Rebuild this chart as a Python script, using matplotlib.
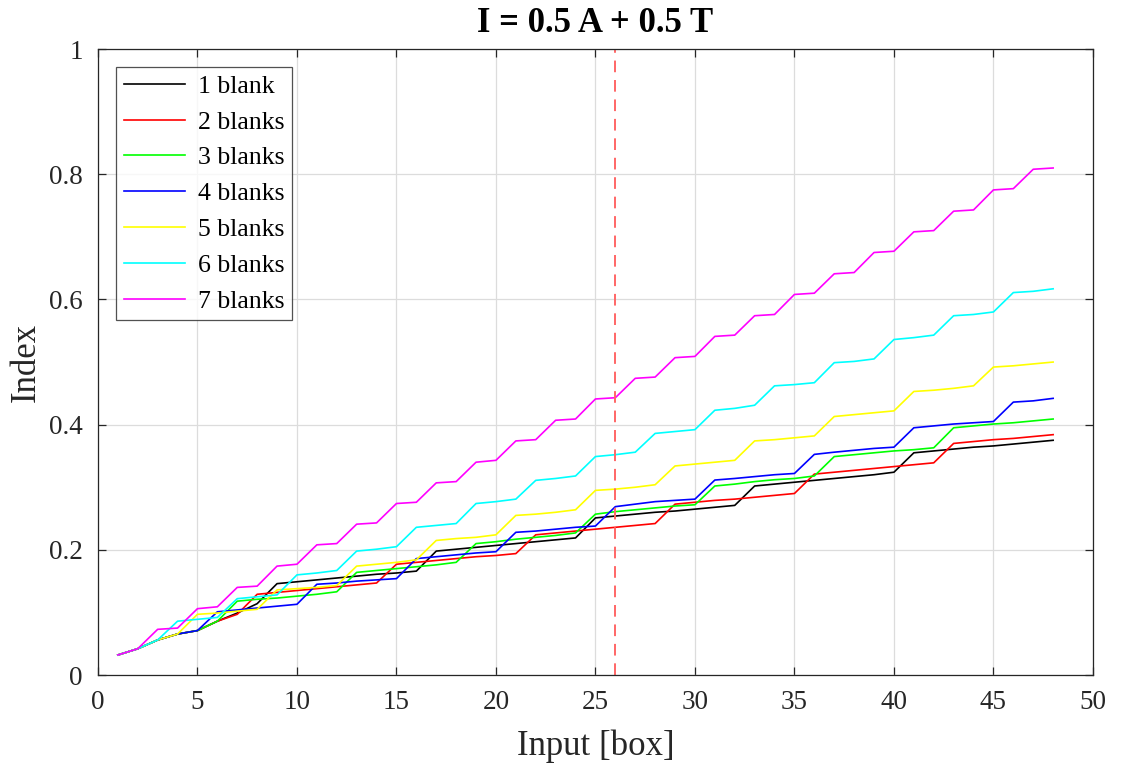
import matplotlib
matplotlib.use("Agg")
import matplotlib.pyplot as plt

# Input box counts
boxes = list(range(1, 49))

idx_1_blank = [0.032, 0.042, 0.056, 0.0655, 0.071, 0.086, 0.099, 0.114,
               0.146, 0.149, 0.152, 0.155, 0.158, 0.161, 0.163, 0.166,
               0.198, 0.201, 0.204, 0.207, 0.210, 0.213, 0.216, 0.219,
               0.251, 0.254, 0.257, 0.260, 0.262, 0.265, 0.268, 0.271,
               0.302, 0.305, 0.308, 0.311, 0.314, 0.317, 0.320, 0.324,
               0.355, 0.358, 0.361, 0.364, 0.366, 0.369, 0.372, 0.375]

idx_2_blanks = [0.032, 0.042, 0.056, 0.0655, 0.071, 0.086, 0.097, 0.129,
                0.132, 0.135, 0.138, 0.141, 0.144, 0.147, 0.177, 0.180,
                0.183, 0.186, 0.189, 0.191, 0.194, 0.224, 0.227, 0.230,
                0.233, 0.236, 0.239, 0.242, 0.273, 0.276, 0.279, 0.281,
                0.284, 0.287, 0.290, 0.321, 0.324, 0.327, 0.330, 0.333,
                0.336, 0.339, 0.370, 0.373, 0.376, 0.378, 0.381, 0.384]

idx_3_blanks = [0.032, 0.042, 0.056, 0.0655, 0.071, 0.086, 0.118, 0.121,
                0.123, 0.126, 0.129, 0.133, 0.164, 0.167, 0.170, 0.173,
                0.176, 0.180, 0.210, 0.213, 0.217, 0.220, 0.223, 0.227,
                0.257, 0.261, 0.264, 0.267, 0.270, 0.272, 0.302, 0.305,
                0.309, 0.312, 0.314, 0.318, 0.349, 0.352, 0.355, 0.358,
                0.360, 0.363, 0.395, 0.398, 0.401, 0.403, 0.406, 0.409]

idx_4_blanks = [0.032, 0.042, 0.056, 0.0655, 0.071, 0.101, 0.104, 0.107,
                0.110, 0.113, 0.145, 0.147, 0.150, 0.152, 0.154, 0.186,
                0.189, 0.192, 0.195, 0.197, 0.228, 0.230, 0.233, 0.236,
                0.238, 0.269, 0.273, 0.277, 0.279, 0.281, 0.3115, 0.314,
                0.317, 0.320, 0.322, 0.3525, 0.356, 0.359, 0.362, 0.364,
                0.395, 0.398, 0.401, 0.403, 0.405, 0.436, 0.438, 0.442]

idx_5_blanks = [0.032, 0.042, 0.056, 0.0655, 0.097, 0.099, 0.102, 0.105,
                0.136, 0.138, 0.140, 0.143, 0.174, 0.177, 0.180, 0.184,
                0.215, 0.218, 0.220, 0.224, 0.255, 0.257, 0.260, 0.264,
                0.295, 0.297, 0.300, 0.304, 0.334, 0.337, 0.340, 0.343,
                0.374, 0.376, 0.379, 0.382, 0.413, 0.416, 0.419, 0.422,
                0.453, 0.455, 0.458, 0.462, 0.492, 0.494, 0.497, 0.500]

idx_6_blanks = [0.032, 0.042, 0.056, 0.086, 0.089, 0.092, 0.122, 0.125,
                0.128, 0.160, 0.163, 0.167, 0.198, 0.201, 0.205, 0.236,
                0.239, 0.242, 0.274, 0.277, 0.281, 0.311, 0.314, 0.318,
                0.349, 0.352, 0.356, 0.386, 0.389, 0.392, 0.423, 0.426,
                0.431, 0.462, 0.464, 0.467, 0.499, 0.501, 0.505, 0.536,
                0.539, 0.543, 0.574, 0.576, 0.580, 0.611, 0.613, 0.617]

idx_7_blanks = [0.032, 0.042, 0.073, 0.075, 0.106, 0.109, 0.140, 0.142,
                0.174, 0.177, 0.208, 0.210, 0.241, 0.243, 0.274, 0.276,
                0.307, 0.309, 0.340, 0.343, 0.374, 0.376, 0.407, 0.409,
                0.441, 0.443, 0.474, 0.476, 0.507, 0.509, 0.541, 0.543,
                0.574, 0.576, 0.608, 0.610, 0.641, 0.643, 0.675, 0.677,
                0.708, 0.710, 0.741, 0.743, 0.775, 0.777, 0.808, 0.810]

labels = ["1 blank", "2 blanks", "3 blanks", "4 blanks",
          "5 blanks", "6 blanks", "7 blanks"]
series = [idx_1_blank, idx_2_blanks, idx_3_blanks, idx_4_blanks,
          idx_5_blanks, idx_6_blanks, idx_7_blanks]
colors = ["#000000", "#ff0000", "#00ff00", "#0000ff",
          "#ffff00", "#00ffff", "#ff00ff"]

marker_box = 26
title_text = "I = 0.5 A + 0.5 T"
x_ticks = [0, 5, 10, 15, 20, 25, 30, 35, 40, 45, 50]
y_ticks = [0, 0.2, 0.4, 0.6, 0.8, 1.0]
y_tick_labels = ["0", "0.2", "0.4", "0.6", "0.8", "1"]

plt.rcParams["font.family"] = ["Liberation Serif", "DejaVu Serif"]
axis_color = "#262626"

fig = plt.figure(figsize=(11.22, 7.69), dpi=100)
ax = fig.add_axes([0.0873, 0.1222, 0.8868, 0.814])

for vals, lab, col in zip(series, labels, colors):
    ax.plot(boxes, vals, color=col, lw=1.2, label=lab)

ax.axvline(marker_box, color="#ff6666", lw=1.4, ls=(0, (6, 4)))

ax.set_xlim(0, 50)
ax.set_ylim(0, 1)
ax.set_xticks(x_ticks)
ax.set_yticks(y_ticks)
ax.set_yticklabels(y_tick_labels)
ax.grid(True, color="#dcdcdc", lw=0.9)
ax.set_axisbelow(True)

ax.tick_params(direction="in", top=True, right=True, length=6, width=0.9,
               colors=axis_color, labelsize=19.5, pad=11)
for sp in ax.spines.values():
    sp.set_color(axis_color)
    sp.set_linewidth(0.9)

ax.set_xlabel("Input [box]", fontsize=25, color=axis_color, labelpad=10)
ax.set_ylabel("Index", fontsize=25, color=axis_color, labelpad=4)
ax.set_title(title_text, fontsize=25, fontweight="bold", color="#000000", pad=12)

leg = ax.legend(loc="upper left", fontsize=18.5, frameon=True, fancybox=False,
                edgecolor=axis_color, handlelength=2.4, handletextpad=0.5,
                borderpad=0.3, labelspacing=0.5, borderaxespad=0.7)
leg.get_frame().set_linewidth(0.9)

fig.savefig("out.png", dpi=100, facecolor="white")
